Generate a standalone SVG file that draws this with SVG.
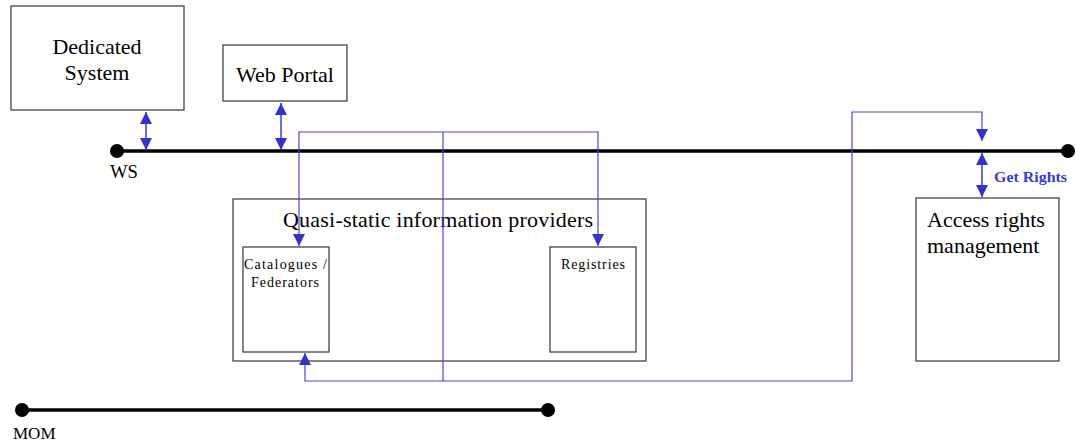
<svg xmlns="http://www.w3.org/2000/svg" width="1076" height="443" viewBox="0 0 1076 443">
  <style>
    .box { fill: #ffffff; stroke: #444444; stroke-width: 1.3; }
    .lbl { font-family: "Liberation Serif", "Times New Roman", serif; fill: #000000; }
    .big { font-size: 22px; }
    .small { font-size: 14px; }
    .bus { stroke: #000000; stroke-width: 3.5; fill: none; }
    .dot { fill: #000000; }
    .wire { stroke: #4646d6; stroke-width: 1.2; fill: none; }
    .link { stroke: #3a3ad0; stroke-width: 1.5; fill: none; }
  </style>
  <defs>
    <marker id="head" viewBox="0 0 12 12" refX="12" refY="6" markerWidth="12" markerHeight="12" markerUnits="userSpaceOnUse" orient="auto-start-reverse">
      <path d="M0,0 L12,6 L0,12 Z" fill="#3333cc"/>
    </marker>
  </defs>

  <rect width="1076" height="443" fill="#ffffff"/>

  <!-- buses -->
  <g id="ws-bus">
    <line class="bus" x1="117" y1="151" x2="1068" y2="151"/>
    <circle class="dot" cx="117" cy="151" r="7"/>
    <circle class="dot" cx="1068" cy="151" r="7"/>
    <text class="lbl" x="110" y="178" font-size="18" textLength="28" lengthAdjust="spacingAndGlyphs">WS</text>
  </g>
  <g id="mom-bus">
    <line class="bus" x1="22" y1="410" x2="548" y2="410"/>
    <circle class="dot" cx="22" cy="410" r="7"/>
    <circle class="dot" cx="548" cy="410" r="7"/>
    <text class="lbl" x="13" y="439" font-size="17">MOM</text>
  </g>

  <!-- nodes -->
  <g id="dedicated-system">
    <rect class="box" x="11" y="6" width="173" height="104"/>
    <text class="lbl big" x="97" y="54" text-anchor="middle">Dedicated</text>
    <text class="lbl big" x="97" y="80" text-anchor="middle">System</text>
  </g>
  <g id="web-portal">
    <rect class="box" x="223" y="45" width="124" height="56"/>
    <text class="lbl big" x="285" y="82" text-anchor="middle">Web Portal</text>
  </g>
  <g id="quasi-static">
    <rect class="box" x="233" y="199" width="413" height="162"/>
    <text class="lbl big" x="283" y="227" textLength="310" lengthAdjust="spacing">Quasi-static information providers</text>
  </g>
  <g id="catalogues">
    <rect class="box" x="243" y="247" width="86" height="105"/>
    <text class="lbl small" x="244" y="269" textLength="83" lengthAdjust="spacing">Catalogues /</text>
    <text class="lbl small" x="251" y="287" textLength="68" lengthAdjust="spacing">Federators</text>
  </g>
  <g id="registries">
    <rect class="box" x="550" y="247" width="86" height="105"/>
    <text class="lbl small" x="561" y="269" textLength="64" lengthAdjust="spacing">Registries</text>
  </g>
  <g id="access-rights">
    <rect class="box" x="916" y="198" width="143" height="163"/>
    <text class="lbl big" x="927" y="227">Access rights</text>
    <text class="lbl big" x="927" y="253">management</text>
  </g>

  <!-- connectors -->
  <g id="connectors">
    <line class="link" x1="146" y1="112" x2="146" y2="150" marker-start="url(#head)" marker-end="url(#head)"/>
    <line class="link" x1="281" y1="103" x2="281" y2="150" marker-start="url(#head)" marker-end="url(#head)"/>
    <line class="link" x1="982" y1="153" x2="982" y2="197" marker-start="url(#head)" marker-end="url(#head)"/>
    <text x="994" y="182" font-family="Liberation Serif, Times New Roman, serif" font-size="14" font-weight="bold" fill="#3a3ad0" textLength="73" lengthAdjust="spacingAndGlyphs">Get Rights</text>

    <polyline class="wire" points="299,246 299,132 598,132 598,246" marker-start="url(#head)" marker-end="url(#head)"/>
    <line class="wire" x1="443" y1="132" x2="443" y2="381"/>
    <polyline class="wire" points="305,353 305,381 852,381 852,112 982,112 982,141" marker-start="url(#head)" marker-end="url(#head)"/>
  </g>
</svg>
